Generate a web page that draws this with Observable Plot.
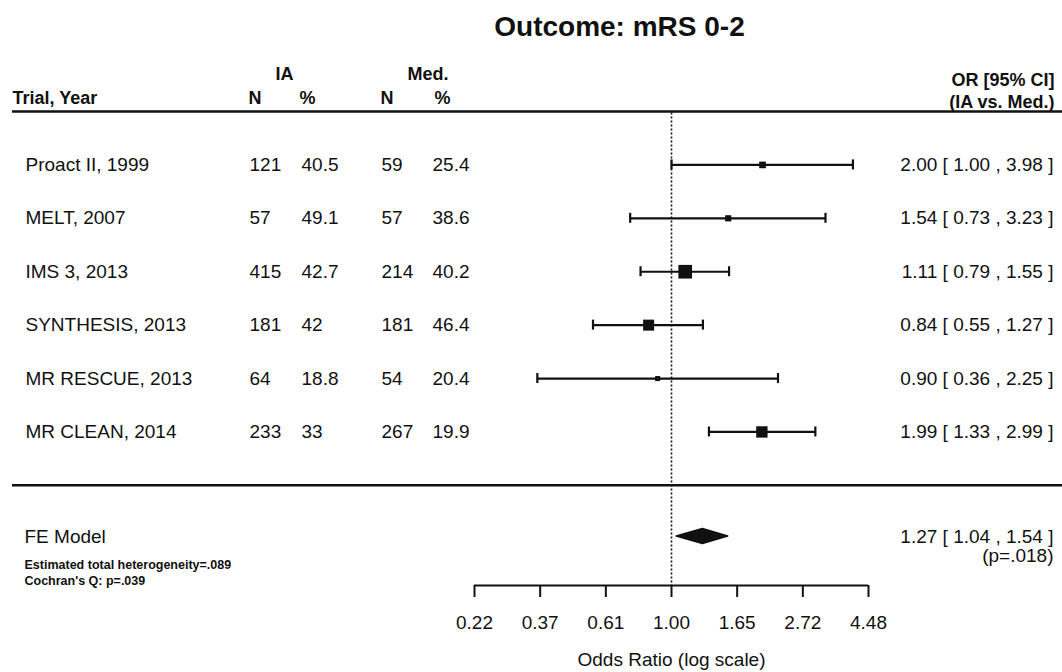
<!DOCTYPE html>
<html>
<head>
<meta charset="utf-8">
<script src="https://cdn.jsdelivr.net/npm/d3@7"></script>
<script src="https://cdn.jsdelivr.net/npm/@observablehq/plot@0.6"></script>
<style>
  body { margin: 0; background: #fff; }
  #chart svg { display: block; font-family: "Liberation Sans", Arial, sans-serif; }
</style>
</head>
<body>
<div id="chart"></div>
<script>
// ---------- data ----------
const title = "Outcome: mRS 0-2";
const trials = ["Proact II, 1999", "MELT, 2007", "IMS 3, 2013", "SYNTHESIS, 2013", "MR RESCUE, 2013", "MR CLEAN, 2014"];
const iaN = [121, 57, 415, 181, 64, 233];
const iaPct = ["40.5", "49.1", "42.7", "42", "18.8", "33"];
const medN = [59, 57, 214, 181, 54, 267];
const medPct = ["25.4", "38.6", "40.2", "46.4", "20.4", "19.9"];
const orEst = [2.00, 1.54, 1.11, 0.84, 0.90, 1.99];
const orLow = [1.00, 0.73, 0.79, 0.55, 0.36, 1.33];
const orHigh = [3.98, 3.23, 1.55, 1.27, 2.25, 2.99];
const feLabel = "FE Model";
const feEst = [1.27], feLow = [1.04], feHigh = [1.54];
const feP = "(p=.018)";
const heterogeneity = ["Estimated total heterogeneity=.089", "Cochran's Q: p=.039"];
const tickValues = [0.2231, 0.3679, 0.6065, 1.0, 1.6487, 2.7183, 4.4817];
const xLabel = "Odds Ratio (log scale)";

// ---------- layout ----------
const W = 1062, H = 672;
const L = 474, R = 868;            // plot frame left/right (pixels)
const TOP = 111, BOTTOM = 585;     // header rule / axis line
const yMax = 8.875;
const PX = (BOTTOM - TOP) / yMax;  // pixels per row unit
const col = { rule: 12, trial: 25, iaN: 249, iaPct: 301, medN: 381, medPct: 432, orRight: 1053, title: 619 };
const fmt = d3.format(".2f");
const ci = (e, l, h) => `${fmt(e)} [ ${fmt(l)} , ${fmt(h)} ]`;
const yAt = px => (px - TOP) / PX;

const rows = trials.map((t, i) => ({
  trial: t, row: i + 1, iaN: iaN[i], iaPct: iaPct[i], medN: medN[i], medPct: medPct[i],
  est: orEst[i], low: orLow[i], high: orHigh[i]
}));
const se = d => (Math.log(d.high) - Math.log(d.low)) / (2 * 1.959964);
const K = 2.35; // square side scaling (pixels * se)
const feRow = yAt(536);
const dh = 7.5 / PX;
const diamond = [
  { x: feLow[0], y1: feRow, y2: feRow },
  { x: feEst[0], y1: feRow - dh, y2: feRow + dh },
  { x: feHigh[0], y1: feRow, y2: feRow }
];
const cap = 5 / PX;
const ink = "#111";

const leftText = (data, px, opts) => Plot.text(data, { frameAnchor: "left", dx: px - L, fill: ink, ...opts });
const rightText = (data, px, opts) => Plot.text(data, { frameAnchor: "right", dx: px - R, textAnchor: "end", fill: ink, ...opts });

const chart = Plot.plot({
  width: W, height: H,
  marginLeft: L, marginRight: W - R, marginTop: TOP, marginBottom: H - BOTTOM,
  style: { fontFamily: "Liberation Sans, Arial, sans-serif", background: "#fff", color: ink },
  x: { type: "log", domain: [tickValues[0], tickValues[tickValues.length - 1]], axis: null },
  y: { domain: [0, yMax], range: [TOP, BOTTOM], axis: null },
  r: { type: "identity" },
  marks: [
    // rules
    Plot.ruleY([0, 7], { insetLeft: -(L - col.rule), insetRight: -(W - R), stroke: ink, strokeWidth: 2.5 }),
    Plot.ruleX([1], { y1: 0.03, y2: yMax, stroke: ink, strokeWidth: 1.6, strokeDasharray: "2,2" }),
    // confidence intervals
    Plot.ruleY(rows, { y: "row", x1: "low", x2: "high", stroke: ink, strokeWidth: 2.2 }),
    Plot.ruleX(rows, { x: "low", y1: d => d.row - cap, y2: d => d.row + cap, stroke: ink, strokeWidth: 2.2 }),
    Plot.ruleX(rows, { x: "high", y1: d => d.row - cap, y2: d => d.row + cap, stroke: ink, strokeWidth: 2.2 }),
    Plot.dot(rows, { x: "est", y: "row", symbol: "square", r: d => K / se(d) / Math.sqrt(Math.PI), fill: ink, stroke: "none" }),
    // summary diamond
    Plot.areaY(diamond, { x: "x", y1: "y1", y2: "y2", fill: ink, stroke: ink, strokeWidth: 1.5, strokeLinejoin: "round" }),
    // axis
    Plot.ruleY([yMax], { x1: tickValues[0], x2: tickValues[tickValues.length - 1], stroke: ink, strokeWidth: 2 }),
    Plot.ruleX(tickValues, { x: d => d, y1: yMax, y2: yAt(597), stroke: ink, strokeWidth: 2 }),
    Plot.text(tickValues, { x: d => d, y: () => yAt(622), text: d => fmt(d), fontSize: 19, fill: ink }),
    Plot.text([xLabel], { x: () => 1, y: () => yAt(659), fontSize: 19, fill: ink }),
    // title
    leftText([title], col.title, { y: () => yAt(27), fontSize: 28, fontWeight: "bold", textAnchor: "middle" }),
    // headers
    leftText(["Trial, Year"], col.rule, { y: () => yAt(98), fontSize: 18, fontWeight: "bold", textAnchor: "start" }),
    leftText(["IA"], 275, { y: () => yAt(74), fontSize: 18, fontWeight: "bold" }),
    leftText(["Med."], 407, { y: () => yAt(74), fontSize: 18, fontWeight: "bold" }),
    leftText(["N"], 248, { y: () => yAt(98), fontSize: 18, fontWeight: "bold" }),
    leftText(["%"], 299, { y: () => yAt(98), fontSize: 18, fontWeight: "bold" }),
    leftText(["N"], 380, { y: () => yAt(98), fontSize: 18, fontWeight: "bold" }),
    leftText(["%"], 434, { y: () => yAt(98), fontSize: 18, fontWeight: "bold" }),
    rightText(["OR [95% CI]"], 1054, { y: () => yAt(80), fontSize: 18, fontWeight: "bold" }),
    rightText(["(IA vs. Med.)"], 1054, { y: () => yAt(102), fontSize: 18, fontWeight: "bold" }),
    // table rows
    leftText(rows, col.trial, { y: "row", text: "trial", textAnchor: "start", fontSize: 19 }),
    leftText(rows, col.iaN, { y: "row", text: "iaN", fontSize: 19 }),
    leftText(rows, col.iaPct, { y: "row", text: "iaPct", fontSize: 19 }),
    leftText(rows, col.medN, { y: "row", text: "medN", fontSize: 19 }),
    leftText(rows, col.medPct, { y: "row", text: "medPct", fontSize: 19 }),
    rightText(rows, col.orRight, { y: "row", text: d => ci(d.est, d.low, d.high), fontSize: 19 }),
    // summary row
    leftText([feLabel], 24, { y: () => feRow, textAnchor: "start", fontSize: 19 }),
    leftText(heterogeneity, 24, { y: (d, i) => yAt(564 + i * 16), textAnchor: "start", fontSize: 12.5, fontWeight: "bold" }),
    rightText([ci(feEst[0], feLow[0], feHigh[0])], col.orRight, { y: () => feRow, fontSize: 19 }),
    rightText([feP], col.orRight, { y: () => yAt(555), fontSize: 19 })
  ]
});
document.getElementById("chart").append(chart);
</script>
</body>
</html>
